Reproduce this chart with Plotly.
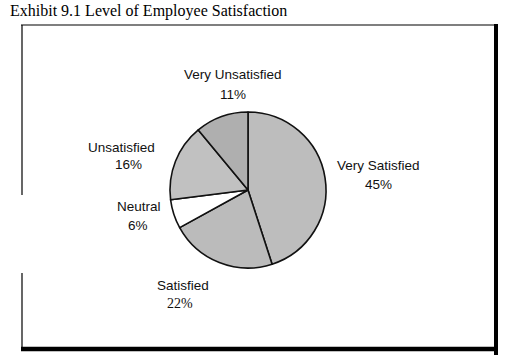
import plotly.graph_objects as go

W, H = 507, 355

categories = ["Very Satisfied", "Satisfied", "Neutral", "Unsatisfied", "Very Unsatisfied"]
values = [45, 22, 6, 16, 11]
pct_labels = ["45%", "22%", "6%", "16%", "11%"]

fills = ["#cfcfcf", "#c4c4c4", "#ffffff", "#d4d4d4", "#a4a4a4"]
pattern_shapes = [".", ".", "", ".", "."]
pattern_fg = ["#6a6a6a", "#646464", "#ffffff", "#727272", "#4a4a4a"]

def px(x):
    return x / W

def py(y):
    return 1 - y / H

fig = go.Figure()
fig.add_trace(go.Pie(
    labels=categories,
    values=values,
    sort=False,
    direction="clockwise",
    rotation=0,
    textinfo="none",
    hoverinfo="label+percent",
    showlegend=False,
    marker=dict(
        colors=fills,
        line=dict(color="#111111", width=1.6),
        pattern=dict(shape=pattern_shapes, fgcolor=pattern_fg, size=2, solidity=0.5),
    ),
    domain=dict(x=[px(170), px(326)], y=[py(268), py(112)]),
))

# label positions (pixels): name center x, name y, pct x, pct y
label_pos = {
    "Very Satisfied": (378, 165, 378, 184, "sans"),
    "Satisfied": (183, 285, 180, 303, "serif"),
    "Neutral": (139, 206, 138, 225, "sans"),
    "Unsatisfied": (121, 147, 128, 164, "sans"),
    "Very Unsatisfied": (233, 75, 233, 94, "sans"),
}
sans = "Liberation Sans, Arial, sans-serif"
serif = "Liberation Serif, Times New Roman, serif"
annotations = []
for cat, pct in zip(categories, pct_labels):
    nx, ny, qx, qy, pf = label_pos[cat]
    annotations.append(dict(x=px(nx), y=py(ny), xref="paper", yref="paper", text=cat,
                            showarrow=False, xanchor="center", yanchor="middle",
                            font=dict(family=sans, size=13.5, color="#111")))
    annotations.append(dict(x=px(qx), y=py(qy), xref="paper", yref="paper", text=pct,
                            showarrow=False, xanchor="center", yanchor="middle",
                            font=dict(family=serif if pf == "serif" else sans,
                                      size=14 if pf == "serif" else 13.5, color="#111")))

annotations.append(dict(x=px(8), y=py(11), xref="paper", yref="paper",
                        text="Exhibit 9.1 Level of Employee Satisfaction",
                        showarrow=False, xanchor="left", yanchor="middle",
                        font=dict(family=serif, size=16, color="#000")))

def line(x0, y0, x1, y1, w):
    return dict(type="line", xref="paper", yref="paper",
                x0=px(x0), y0=py(y0), x1=px(x1), y1=py(y1),
                line=dict(color="#000", width=w))

shapes = [
    line(21, 25, 495, 25, 1.2),
    line(22, 25, 22, 195, 1.2),
    line(22, 273, 22, 349, 1.2),
    line(496, 24, 496, 355, 4),
    line(21, 349, 498, 349, 4.5),
]

fig.update_layout(
    width=W, height=H,
    margin=dict(l=0, r=0, t=0, b=0),
    paper_bgcolor="white",
    plot_bgcolor="white",
    annotations=annotations,
    shapes=shapes,
)

fig.write_html("out.html", config={"displayModeBar": False},
               post_script="document.body.style.margin='0';document.body.style.overflow='hidden';")
